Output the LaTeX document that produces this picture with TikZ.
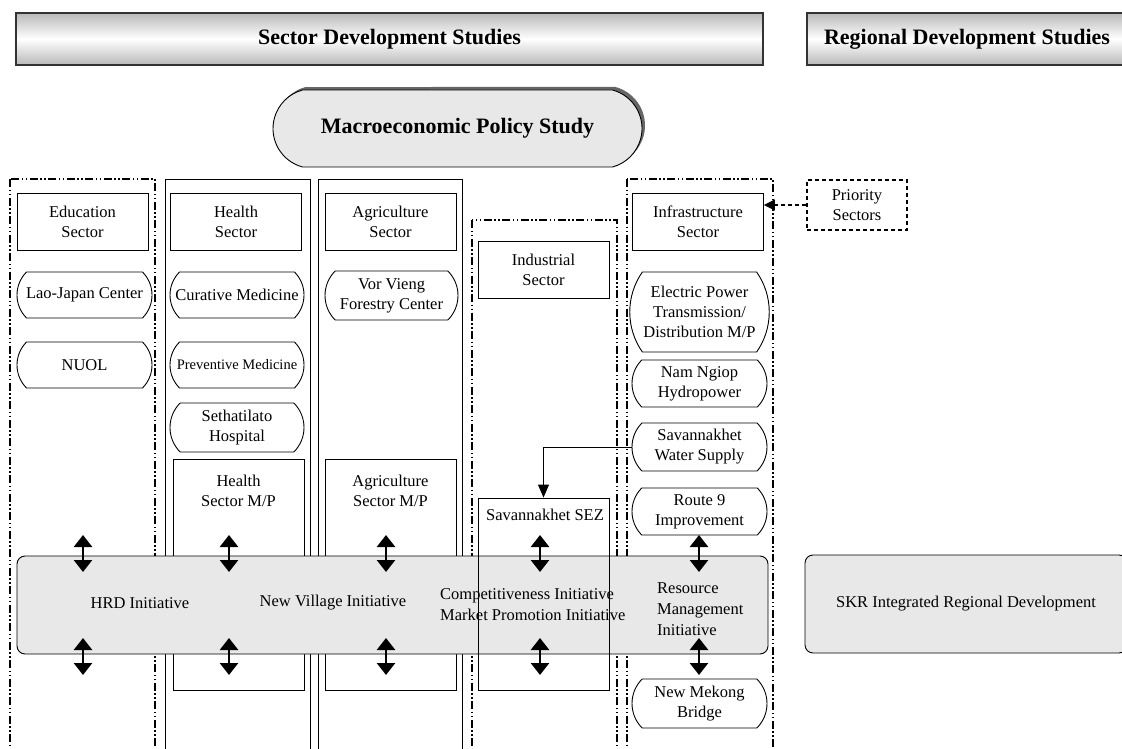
\documentclass[tikz,border=0pt]{standalone}
\usepackage{fontspec}
\setmainfont{Liberation Serif}
\usepackage{xcolor}
\usetikzlibrary{shapes.misc,shadows,arrows.meta}

\definecolor{bandgray}{HTML}{E8E8E8}

\tikzset{
  every node/.style={font=\fontsize{16.5}{20}\selectfont, align=center, inner sep=0pt},
  titlebar/.style={draw=black!80, line width=1.2pt, top color=gray!55, bottom color=gray!55,
    middle color=white, minimum height=52pt, font=\fontsize{22}{26}\selectfont\bfseries},
  sectorbox/.style={draw, line width=0.9pt, minimum width=131pt, minimum height=57pt},
  project/.style={draw, line width=0.9pt, shape=rounded rectangle, rounded rectangle arc length=90,
    minimum width=135pt, minimum height=46pt},
  initiative/.style={draw, line width=0.9pt, fill=bandgray, rounded corners=8pt, minimum height=98pt},
  ddcol/.style={line width=1.2pt, dash pattern=on 8pt off 2.5pt on 1.5pt off 2.5pt on 1.5pt off 2.5pt},
  solidcol/.style={line width=0.9pt},
  bothway/.style={line width=2.6pt, {Triangle[width=18pt,length=12pt]}-{Triangle[width=18pt,length=12pt]}}
}

\begin{document}
\begin{tikzpicture}[x=1pt, y=-1pt]
  \clip (0,0) rectangle (1122,749);

  % Title bars
  \node[titlebar, minimum width=747pt] (secbar) at (389.5,39) {Sector Development Studies};
  \node[titlebar, minimum width=320pt] (regbar) at (967,39) {Regional Development Studies};

  % Macro study
  \node[draw, line width=0.9pt, fill=bandgray, shape=rounded rectangle, rounded rectangle arc length=150,
    minimum width=369pt, minimum height=77pt, font=\fontsize{22}{26}\selectfont\bfseries,
    drop shadow={shadow xshift=3pt, shadow yshift=3pt, fill=gray!80!black, opacity=1}]
    (macro) at (457.5,128.5) {Macroeconomic Policy Study};

  % Sector columns
  \draw[ddcol] (10,179) rectangle (155,760);
  \draw[solidcol] (165,179) rectangle (310,760);
  \draw[solidcol] (318,179) rectangle (462,760);
  \draw[ddcol] (472,220) rectangle (617,760);
  \draw[ddcol] (627,179) rectangle (773,760);

  % Sector heads
  \node[sectorbox] (edu) at (82.5,221.5) {Education\\Sector};
  \node[sectorbox] (hlth) at (236,221.5) {Health\\Sector};
  \node[sectorbox] (agri) at (390.5,221.5) {Agriculture\\Sector};
  \node[sectorbox] (ind) at (543.5,269.5) {Industrial\\Sector};
  \node[sectorbox] (infra) at (698,221.5) {Infrastructure\\Sector};
  \node[draw, line width=1.3pt, dash pattern=on 4pt off 3pt, minimum width=100pt, minimum height=50pt]
    (prio) at (857,205) {Priority\\Sectors};
  \draw[line width=1.1pt, dash pattern=on 4pt off 3pt, -{Triangle[width=11pt,length=11pt]}]
    (prio.west) -- (prio.west -| infra.east);

  % Projects
  \node[project] (laojp) at (84.5,295) {Lao-Japan Center};
  \node[project] (nuol) at (84.5,365) {NUOL};
  \node[project, minimum width=134pt] (cur) at (237,295) {Curative Medicine};
  \node[project, minimum width=134pt, font=\fontsize{14.5}{18}\selectfont] (prev) at (237,365) {Preventive Medicine};
  \node[project, minimum width=134pt, minimum height=49pt] (seth) at (237,427.5) {Sethatilato\\Hospital};
  \node[project, minimum width=133pt, minimum height=49pt] (vor) at (391.5,295.5) {Vor Vieng\\Forestry Center};
  \node[project, minimum height=80pt, rounded rectangle arc length=70] (elec) at (699.5,312)
    {Electric Power\\Transmission/\\Distribution M/P};
  \node[project, minimum height=47pt] (nam) at (699.5,383.5) {Nam Ngiop\\Hydropower};
  \node[project, minimum height=48pt] (water) at (699.5,447) {Savannakhet\\Water Supply};
  \node[project, minimum height=47pt] (route) at (699.5,511.5) {Route 9\\Improvement};
  \node[project, minimum height=49pt] (mekong) at (699.5,703.5) {New Mekong\\Bridge};

  % Master plans
  \node[draw, line width=0.9pt, minimum width=131pt, minimum height=231pt] (hmp) at (238.5,574.5) {};
  \node (hmptext) at (238.5,491) {Health\\Sector M/P};
  \node[draw, line width=0.9pt, minimum width=131pt, minimum height=231pt] (amp) at (390.5,574.5) {};
  \node (amptext) at (390.5,491) {Agriculture\\Sector M/P};

  % Initiatives band
  \node[initiative, minimum width=751pt] (band) at (392.5,605) {};
  \node[initiative, minimum width=322pt] (skr) at (966,604) {SKR Integrated Regional Development};
  \node (hrd) at (140,603) {HRD Initiative};
  \node (village) at (333,603) {New Village Initiative};
  \node[anchor=west, align=left, font=\fontsize{16.5}{21}\selectfont] (compet) at (440,604.5)
    {Competitiveness Initiative\\Market Promotion Initiative};
  \node[anchor=west, align=left, font=\fontsize{16.5}{21}\selectfont] (resource) at (657,609)
    {Resource\\Management\\Initiative};

  % SEZ drawn over the band
  \node[draw, line width=0.9pt, minimum width=131pt, minimum height=192pt] (sez) at (543.5,594) {};
  \node (seztext) at (545,515) {Savannakhet SEZ};
  \draw[line width=0.9pt, -{Triangle[width=11pt,length=13pt]}] (water.west) -| (sez.north);

  % Links to the initiatives
  \foreach \x [count=\i] in {83,229,386,540,699} {
    \coordinate (up\i) at (\x,535);
    \coordinate (in\i) at (\x,572);
    \coordinate (out\i) at (\x,638);
    \coordinate (dn\i) at (\x,675);
    \draw[bothway] (up\i) -- (in\i);
    \draw[bothway] (out\i) -- (dn\i);
  }
\end{tikzpicture}
\end{document}
